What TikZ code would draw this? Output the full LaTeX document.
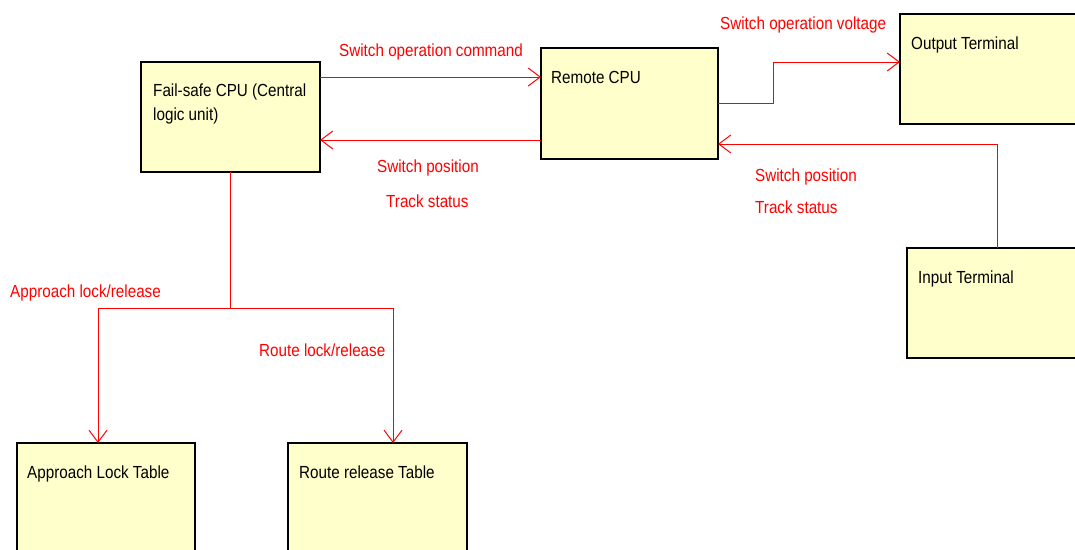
\documentclass[tikz,border=0pt]{standalone}
\usepackage{fontspec}
\setmainfont[FakeStretch=0.87]{Liberation Sans}
\usetikzlibrary{arrows.meta}
\definecolor{boxfill}{RGB}{255,255,204}
\definecolor{linkred}{RGB}{255,0,0}
\tikzset{
  unit/.style={draw=black, line width=2.5pt, fill=boxfill, anchor=north west,
    inner sep=0pt, outer sep=0pt},
  boxtext/.style={anchor=base west, inner sep=0pt, text=black,
    font=\fontsize{17.5}{20}\selectfont},
  flowtext/.style={anchor=base west, inner sep=0pt, text=linkred,
    font=\fontsize{17.5}{20}\selectfont},
  link/.style={draw=linkred, line width=1pt,
    -{Straight Barb[length=12pt,width=18pt,line width=1pt]}},
  plainlink/.style={draw=linkred, line width=1pt}
}
\begin{document}
\begin{tikzpicture}[x=1pt,y=-1pt]
\useasboundingbox (0,0) rectangle (1075,549);
\clip (0,0) rectangle (1075,549);

% processing units and tables
\node[unit, minimum width=179pt, minimum height=110pt] (fs)  at (141,62)  {};
\node[unit, minimum width=177pt, minimum height=111pt] (rc)  at (541,48)  {};
\node[unit, minimum width=200pt, minimum height=110pt] (out) at (900,14)  {};
\node[unit, minimum width=200pt, minimum height=110pt] (in)  at (907,248) {};
\node[unit, minimum width=178pt, minimum height=150pt] (alt) at (17,443)  {};
\node[unit, minimum width=179pt, minimum height=150pt] (rrt) at (288,443) {};

% box titles
\node[boxtext] (fst1) at (153,96)  {Fail-safe CPU (Central};
\node[boxtext] (fst2) at (153,120) {logic unit)};
\node[boxtext] (rct)  at (551,83)  {Remote CPU};
\node[boxtext] (outt) at (911,49)  {Output Terminal};
\node[boxtext] (int)  at (918,283) {Input Terminal};
\node[boxtext] (altt) at (27,478)  {Approach Lock Table};
\node[boxtext] (rrtt) at (299,478) {Route release Table};

% command and status flows
\draw[link] ([yshift=-15pt]fs.north east) -- ([yshift=-15pt]fs.north east -| rc.west);
\draw[link] ([yshift=19pt]rc.south west) -- ([yshift=19pt]rc.south west -| fs.east);
\draw[link] (rc.east) -- ++(55,0) |- ([yshift=7pt]out.west);
\draw[link] ([xshift=-10pt]in.north) |- ([yshift=15pt]rc.south east);

% lock/release branch
\coordinate (split) at ([yshift=-136pt]fs.south);
\draw[plainlink] (fs.south) -- (split);
\draw[link] (split) -| ([xshift=-8pt]alt.north);
\draw[link] (split) -| ([xshift=15.5pt]rrt.north);

% flow labels
\node[flowtext] (l1) at (339,56)  {Switch operation command};
\node[flowtext] (l2) at (377,172) {Switch position};
\node[flowtext] (l3) at (386,207) {Track status};
\node[flowtext] (l4) at (720,29)  {Switch operation voltage};
\node[flowtext] (l5) at (755,181) {Switch position};
\node[flowtext] (l6) at (755,213) {Track status};
\node[flowtext] (l7) at (10,297)  {Approach lock/release};
\node[flowtext] (l8) at (259,356) {Route lock/release};
\end{tikzpicture}
\end{document}
